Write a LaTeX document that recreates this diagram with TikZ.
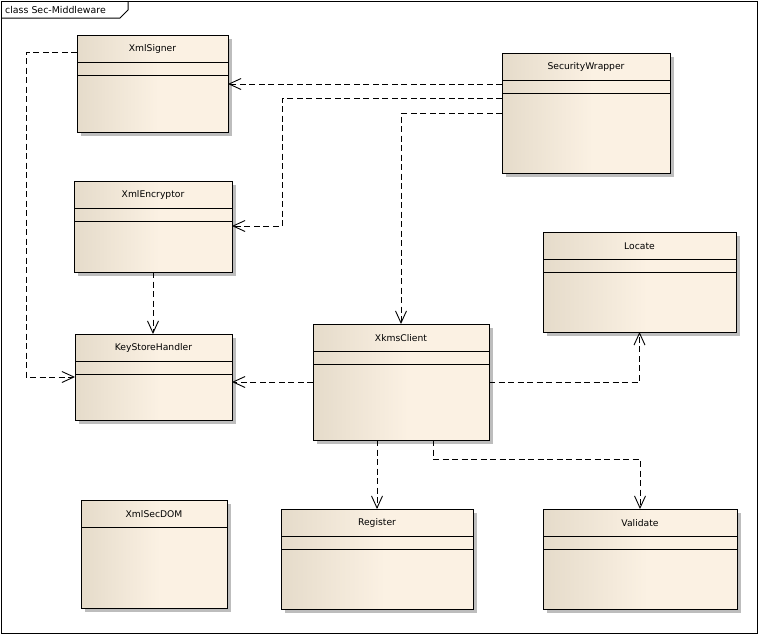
\documentclass[tikz,border=0pt]{standalone}
\usepackage{fontspec}
\setmainfont{DejaVu Sans}
\usetikzlibrary{arrows.meta,calc,shadows}
\definecolor{cL}{HTML}{E5DBCA}
\definecolor{cR}{HTML}{FBF1E3}
\definecolor{shd}{HTML}{BDBDBD}
\pgfdeclarehorizontalshading{classshade}{100bp}{color(0bp)=(cL); color(25bp)=(cL); color(52bp)=(cR); color(100bp)=(cR)}
\tikzset{
  classbox/.style={draw=black, line width=1pt, shading=classshade, inner sep=0pt, outer sep=0pt, anchor=north west,
    drop shadow={shadow xshift=4pt, shadow yshift=-4pt, fill=shd, opacity=1}},
  classname/.style={font=\fontsize{9.2}{11}\selectfont, inner sep=0pt},
  divline/.style={line width=1pt},
  dep/.style={line width=0.9pt, dash pattern=on 6pt off 3.5pt, -{Straight Barb[length=12pt,width=11pt,line width=0.9pt]}},
}
\newcommand{\umlclass}[7]{% name, x, y, w, h, text, two dividers? (1/0)
  \node[classbox, minimum width=#4pt, minimum height=#5pt] (#1) at (#2,#3) {};
  \node[classname] (#1-t) at ([yshift=-14pt]#1.north) {#6};
  \draw[divline] ($(#1.north west)+(0,-27pt)$) -- ($(#1.north east)+(0,-27pt)$);
  \ifnum#7=1
  \draw[divline] ($(#1.north west)+(0,-40pt)$) -- ($(#1.north east)+(0,-40pt)$);
  \fi
}
\begin{document}
\begin{tikzpicture}[x=1pt,y=-1pt]
\useasboundingbox (0,0) rectangle (762,635);
% frame
\draw[line width=1pt] (1,1) rectangle (757,633);
\draw[line width=1pt] (1,18) -- (120,18) -- (128,10) -- (128,1);
\node[anchor=west, font=\fontsize{9.4}{11}\selectfont, inner sep=0pt] (title) at (5,10) {class Sec-Middleware};
% classes
\umlclass{xs}{77}{35}{151}{97}{XmlSigner}{1}
\umlclass{sw}{502}{53}{168}{120}{SecurityWrapper}{1}
\umlclass{xe}{74}{181}{158}{91}{XmlEncryptor}{1}
\umlclass{ks}{75}{334}{157}{86}{KeyStoreHandler}{1}
\umlclass{loc}{543}{232}{193}{100}{Locate}{1}
\umlclass{xk}{313}{324}{176}{116}{XkmsClient}{1}
\umlclass{dom}{81}{500}{146}{108}{XmlSecDOM}{0}
\umlclass{reg}{281}{509}{192}{100}{Register}{1}
\umlclass{val}{543}{509}{194}{100}{Validate}{1}
% dependencies
\draw[dep] ([yshift=-31pt]sw.north west) -- ([yshift=-31pt]sw.north west -| xs.east);
\draw[dep] ([yshift=-45pt]sw.north west) -- (282,98) -- (282,226) -- ([yshift=-45pt]xe.north east);
\draw[dep] ([yshift=-60pt]sw.north west) -| (xk.north);
\draw[dep] ([yshift=-17pt]xs.north west) -- (26,52) -- (26,377) -- ([yshift=-43pt]ks.north west);
\draw[dep] (xe.south) -- (xe.south |- ks.north);
\draw[dep] ([yshift=-58pt]xk.north west) -- ([yshift=-58pt]xk.north west -| ks.east);
\draw[dep] ([yshift=-58pt]xk.north east) -| (loc.south);
\draw[dep] (reg.north |- xk.south) -- (reg.north);
\draw[dep] ([xshift=120pt]xk.south west) -- (433,459) -| (val.north);
\end{tikzpicture}
\end{document}
